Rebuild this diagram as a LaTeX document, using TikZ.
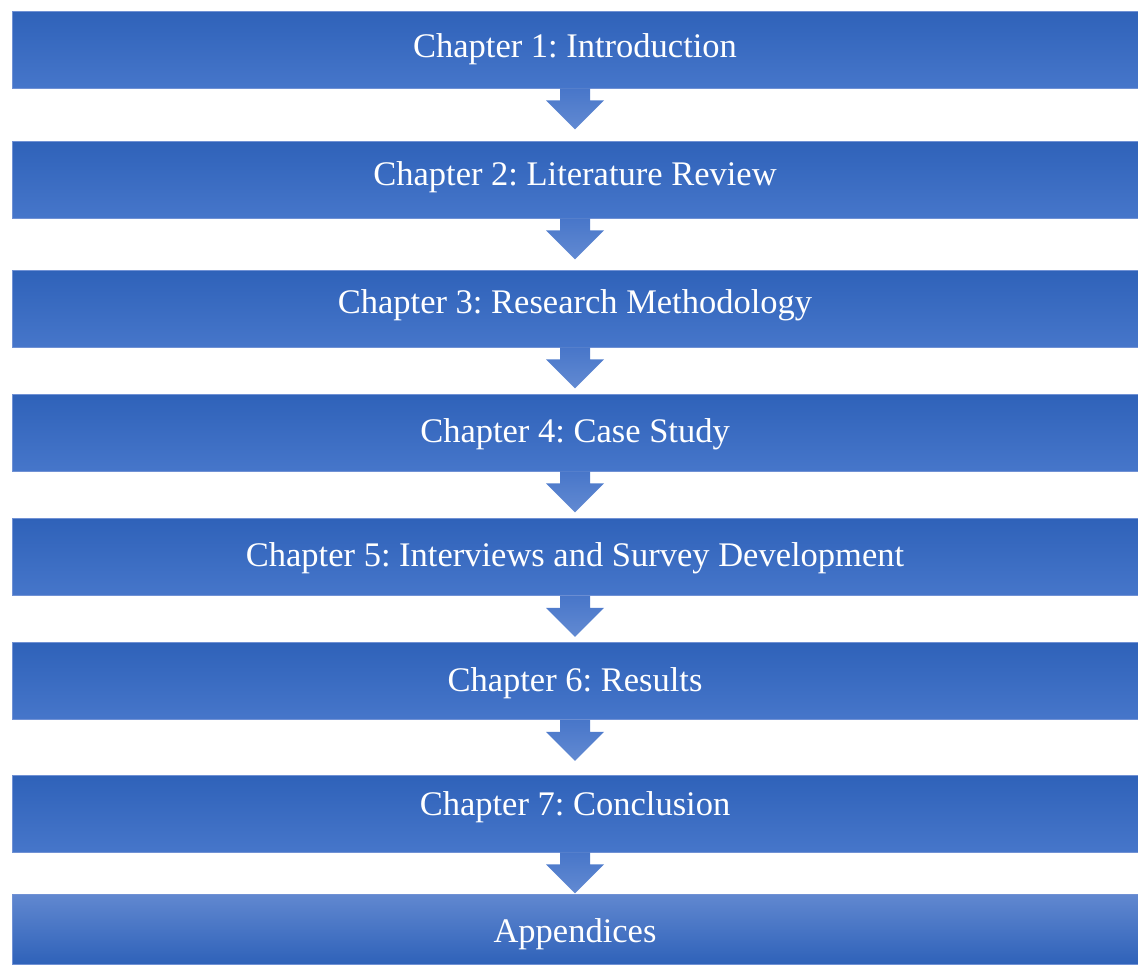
\documentclass[tikz,border=0pt]{standalone}
\usepackage{fontspec}
\setmainfont{Liberation Serif}
\usepackage{xcolor}
\usepackage{tikz}
\usetikzlibrary{positioning}
\frenchspacing

\definecolor{boxtop}{RGB}{47,98,185}
\definecolor{boxbot}{RGB}{70,118,202}
\definecolor{boxedge}{RGB}{112,145,212}
\definecolor{arrtop}{RGB}{72,118,201}
\definecolor{arrbot}{RGB}{98,138,210}
\definecolor{lasttop}{RGB}{97,136,208}

\begin{document}
\begin{tikzpicture}[x=1pt, y=-1pt,
		chapbox/.style={rectangle, draw=boxedge, line width=0.8pt, top color=boxtop, bottom color=boxbot, minimum width=1126pt, minimum height=77pt, inner sep=0pt},
		lastbox/.style={chapbox, top color=lasttop, bottom color=boxtop, minimum height=70pt},
		chaptext/.style={anchor=base, text=white, inner sep=0pt, font=\fontsize{34.5}{40}\selectfont},
		flowarrow/.style={top color=arrtop, bottom color=arrbot}]
			\useasboundingbox (0, 0) rectangle (1138, 964);
			% Boxes:
			\node[chapbox] (b1) at (575, 49.5){};
			\node[chapbox] (b2) at (575, 179.5){};
			\node[chapbox] (b3) at (575, 308.5){};
			\node[chapbox] (b4) at (575, 432.5){};
			\node[chapbox] (b5) at (575, 557){};
			\node[chapbox] (b6) at (575, 681){};
			\node[chapbox] (b7) at (575, 813.5){};
			\node[lastbox] (b8) at (575, 929){};
			% Texts:
			\node[chaptext] (t1) at (575, 57){Chapter 1: Introduction};
			\node[chaptext] (t2) at (575, 185){Chapter 2: Literature Review};
			\node[chaptext] (t3) at (575, 313){Chapter 3: Research Methodology};
			\node[chaptext] (t4) at (575, 442){Chapter 4: Case Study};
			\node[chaptext] (t5) at (575, 566){Chapter 5: Interviews and Survey Development};
			\node[chaptext] (t6) at (575, 691){Chapter 6: Results};
			\node[chaptext] (t7) at (575, 815){Chapter 7: Conclusion};
			\node[chaptext] (t8) at (575, 942){Appendices};
			% Arrows:
			\foreach \i in {1,...,7}
				\shade[flowarrow] (b\i.south) ++(-15, 0) -- ++(0, 12) -- ++(-14, 0) -- ++(29, 29) -- ++(29, -29) -- ++(-14, 0) -- ++(0, -12) -- cycle;
		\end{tikzpicture}
\end{document}
